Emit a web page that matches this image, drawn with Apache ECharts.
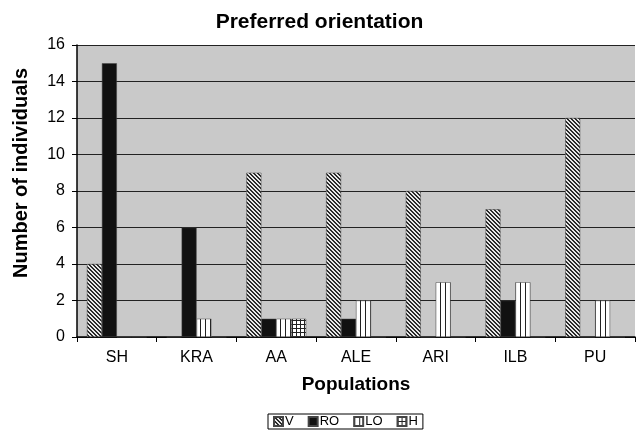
<!DOCTYPE html>
<html>
<head>
<meta charset="utf-8">
<script src="https://cdn.jsdelivr.net/npm/echarts@6/dist/echarts.min.js"></script>
<style>
  html, body { margin: 0; padding: 0; background: #fff; }
  #main { width: 639px; height: 431px; }
</style>
</head>
<body>
<div id="main"></div>
<script>
var categories = ['SH', 'KRA', 'AA', 'ALE', 'ARI', 'ILB', 'PU'];
var valuesV  = [4, 0, 9, 9, 8, 7, 12];
var valuesRO = [15, 6, 1, 1, 0, 2, 0];
var valuesLO = [0, 1, 1, 2, 3, 3, 2];
var valuesH  = [0, 0, 1, 0, 0, 0, 0];
var yTicks = [0, 2, 4, 6, 8, 10, 12, 14, 16];

// small canvas tiles for the fill patterns
function makePattern(size, draw) {
    var c = document.createElement('canvas');
    c.width = size; c.height = size;
    var ctx = c.getContext('2d');
    draw(ctx, size);
    return { image: c, repeat: 'repeat' };
}
var hatch = makePattern(4, function (ctx, s) {
    ctx.fillStyle = '#e8e8e8'; ctx.fillRect(0, 0, s, s);
    ctx.fillStyle = '#2a2a2a';
    for (var i = 0; i < s; i++) { ctx.fillRect(i, i, 1, 1); ctx.fillRect((i + 1) % s, i, 1, 1); }
});
var stripes = makePattern(5, function (ctx, s) {
    ctx.fillStyle = '#fff'; ctx.fillRect(0, 0, s, s);
    ctx.fillStyle = '#222'; ctx.fillRect(0, 0, 1, s);
});
var grid = makePattern(4, function (ctx, s) {
    ctx.fillStyle = '#fff'; ctx.fillRect(0, 0, s, s);
    ctx.fillStyle = '#222'; ctx.fillRect(0, 0, 1, s); ctx.fillRect(0, 0, s, 1);
});

var myChart = echarts.init(document.getElementById('main'));

function bar(name, data, color) {
    return {
        name: name,
        type: 'bar',
        barGap: 0,
        barCategoryGap: '25%',
        data: data,
        itemStyle: { color: color, borderColor: '#444', borderWidth: 0.5 }
    };
}

var option = {
    backgroundColor: '#fff',
    animation: false,
    textStyle: { fontFamily: 'Liberation Sans, Arial, sans-serif', color: '#000' },
    title: {
        text: 'Preferred orientation',
        left: 'center',
        top: 7,
        textStyle: { fontSize: 21, fontWeight: 'bold', color: '#000' }
    },
    legend: {
        left: 268,
        top: 414,
        itemWidth: 9,
        itemHeight: 9,
        itemGap: 14,
        padding: [1, 5],
        borderColor: '#000',
        borderWidth: 1,
        icon: 'rect',
        textStyle: { fontSize: 13, color: '#000', padding: [0, 0, 0, -3] },
        data: ['V', 'RO', 'LO', 'H']
    },
    grid: { left: 77, right: 4, top: 45, bottom: 94, backgroundColor: '#c9c9c9', show: true, borderWidth: 0 },
    xAxis: {
        type: 'category',
        data: categories,
        name: 'Populations',
        nameLocation: 'middle',
        nameGap: 38,
        nameTextStyle: { fontSize: 19, fontWeight: 'bold', color: '#000' },
        axisLine: { lineStyle: { color: '#000', width: 1.5 } },
        axisTick: { show: true, length: 5, lineStyle: { color: '#000' } },
        axisLabel: { fontSize: 16, color: '#000', margin: 13 }
    },
    yAxis: {
        type: 'value',
        min: yTicks[0],
        max: yTicks[yTicks.length - 1],
        interval: 2,
        name: 'Number of individuals',
        nameLocation: 'middle',
        nameGap: 46,
        nameTextStyle: { fontSize: 20, fontWeight: 'bold', color: '#000', padding: [0, 0, 0, 36] },
        axisLine: { show: true, lineStyle: { color: '#000', width: 1.5 } },
        axisTick: { show: true, length: 5, lineStyle: { color: '#000' } },
        axisLabel: { fontSize: 16, color: '#000', margin: 12 },
        splitLine: { lineStyle: { color: '#222', width: 1.2 } }
    },
    series: [
        bar('V', valuesV, hatch),
        bar('RO', valuesRO, '#111'),
        bar('LO', valuesLO, stripes),
        bar('H', valuesH, grid)
    ]
};
myChart.setOption(option, true);
window.onresize = function () { myChart.resize(); };
</script>
</body>
</html>
